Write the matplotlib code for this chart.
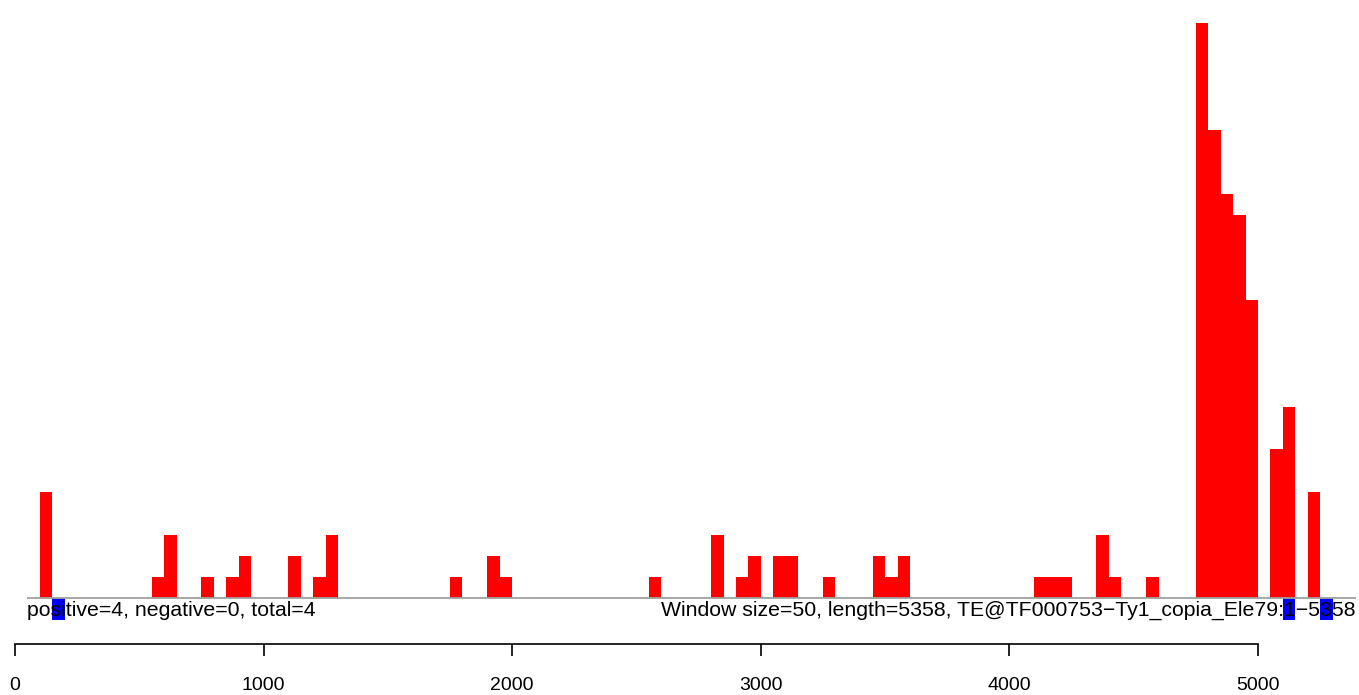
import matplotlib.pyplot as plt

plt.rcParams['font.family'] = ['Liberation Sans', 'DejaVu Sans']

# Ventanas de 50 pb con lecturas (inicio de ventana) y sus cuentas
window = 50
red_starts = [100, 550, 600, 750, 850, 900, 1100, 1200, 1250, 1750, 1900, 1950,
              2550, 2800, 2900, 2950, 3050, 3100, 3250, 3450, 3500, 3550,
              4100, 4150, 4200, 4350, 4400, 4550, 4750, 4800, 4850, 4900, 4950,
              5050, 5100, 5200]
red_counts = [5, 1, 3, 1, 1, 2, 2, 1, 3, 1, 2, 1,
              1, 3, 1, 2, 2, 2, 1, 2, 1, 2,
              1, 1, 1, 3, 1, 1, 27, 22, 19, 18, 14,
              7, 9, 5]

# Sitios positivos (dibujados hacia abajo)
blue_starts = [150, 5100, 5250]
blue_counts = [-1, -1, -1]

xticks = [0, 1000, 2000, 3000, 4000, 5000]
left_label = "positive=4, negative=0, total=4"
right_label = "Window size=50, length=5358, TE@TF000753\u2212Ty1_copia_Ele79:1\u22125358"

fig = plt.figure(figsize=(13.59, 6.95), dpi=100)
ax = fig.add_axes([0, 0, 1, 1])

ax.bar(red_starts, red_counts, width=window, align='edge', color='#ff0000', linewidth=0)
ax.bar(blue_starts, blue_counts, width=window, align='edge', color='#0000ff', linewidth=0)

# Linea base gris
ax.hlines(0, 48, 5394, color='#a0a0a0', linewidth=1.3, zorder=1)

ax.text(48, -0.12, left_label, ha='left', va='top', fontsize=15.3, zorder=3)
ax.text(5394, -0.12, right_label, ha='right', va='top', fontsize=15.3, zorder=3)

ax.set_xlim(-60.3, 5406.3)
ax.set_ylim(-4.53, 28.09)

# Eje x
for s in ['top', 'right', 'left']:
    ax.spines[s].set_visible(False)
ax.spines['bottom'].set_position(('data', -2.135))
ax.spines['bottom'].set_bounds(0, 5000)
ax.spines['bottom'].set_linewidth(1.2)
ax.set_xticks(xticks)
ax.set_xticklabels([str(t) for t in xticks])
ax.tick_params(axis='x', direction='out', length=8.6, width=1.2, pad=15, labelsize=14)
ax.set_yticks([])
ax.patch.set_alpha(0)

fig.savefig('out.png', dpi=100)
